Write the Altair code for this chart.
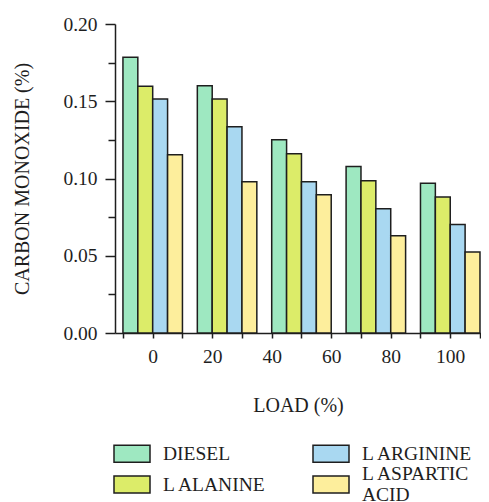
import altair as alt
import pandas as pd

loads = [0, 25, 50, 75, 100]
series = ["DIESEL", "L ALANINE", "L ARGININE", "L ASPARTIC ACID"]
diesel = [0.1785, 0.1600, 0.1251, 0.1077, 0.0969]
alanine = [0.1597, 0.1515, 0.1161, 0.0986, 0.0880]
arginine = [0.1515, 0.1335, 0.0979, 0.0805, 0.0703]
aspartic = [0.1154, 0.0979, 0.0895, 0.0630, 0.0524]
colors = ["#9ee8c1", "#dcec69", "#a9d8f1", "#fdee9c"]

x_ticks = [-10, 0, 10, 20, 30, 40, 50, 60, 70, 80, 90, 100, 110]
y_ticks = [0, 0.025, 0.05, 0.075, 0.1, 0.125, 0.15, 0.175, 0.2]

rows = []
for i, (name, vals) in enumerate(zip(series, [diesel, alanine, arginine, aspartic])):
    for load, v in zip(loads, vals):
        rows.append({"load": load, "series": name, "idx": i, "co": v})
df = pd.DataFrame(rows)

FONT = "Liberation Serif"
INK = "#1e1e1e"
FS = 19.5

chart = (
    alt.Chart(df)
    .transform_calculate(
        x0="datum.load - 10 + 5 * datum.idx",
        x1="datum.load - 5 + 5 * datum.idx",
    )
    .mark_bar(stroke=INK, strokeWidth=1.5, opacity=1)
    .encode(
        x=alt.X(
            "x0:Q",
            scale=alt.Scale(domain=[-12.67, 110.34], nice=False, zero=False),
            axis=alt.Axis(
                values=x_ticks,
                labelExpr="datum.value % 20 == 0 ? datum.label : ''",
                title="LOAD (%)",
                tickSize=5,
                labelPadding=9,
                titlePadding=30,
                labelFlush=False,
                labelOverlap=False,
            ),
        ),
        x2="x1:Q",
        y=alt.Y(
            "co:Q",
            scale=alt.Scale(domain=[0, 0.2], nice=False),
            axis=alt.Axis(
                values=y_ticks,
                labelExpr="round(datum.value * 1000) % 50 == 0 ? format(datum.value, '.2f') : ''",
                title="CARBON MONOXIDE (%)",
                tickSize={"condition": {"test": "round(datum.value * 1000) % 50 == 0", "value": 10}, "value": 7},
                labelPadding=8,
                titlePadding=30,
                labelFlush=False,
                labelOverlap=False,
            ),
        ),
        y2=alt.datum(0),
        color=alt.Color(
            "series:N",
            scale=alt.Scale(domain=series, range=colors),
            legend=alt.Legend(
                title=None,
                orient="none",
                legendX=-2,
                legendY=410.5,
                columns=2,
                symbolType="M-1,-0.47L1,-0.47L1,0.47L-1,0.47Z",
                symbolSize=1296,
                symbolStrokeColor=INK,
                symbolStrokeWidth=1.5,
                symbolOpacity=1,
                labelFont=FONT,
                labelFontSize=FS,
                labelColor=INK,
                labelOffset=12,
                labelLimit=400,
                columnPadding=43,
                rowPadding=-6,
                padding=0,
                labelBaseline={"expr": "datum.label == 'L ASPARTIC ACID' ? 'line-bottom' : 'middle'"},
                labelExpr="datum.label == 'L ASPARTIC ACID' ? ['L ASPARTIC', 'ACID'] : datum.label",
            ),
        ),
    )
    .properties(
        width=366,
        height=309,
        padding={"left": 107, "top": 16, "right": 0, "bottom": 180},
        autosize=alt.AutoSizeParams(type="none"),
    )
    .configure_view(stroke=None)
    .configure_axis(
        grid=False,
        domainColor=INK,
        domainWidth=1.5,
        tickColor=INK,
        tickWidth=1.5,
        labelFont=FONT,
        labelFontSize=FS,
        labelColor=INK,
        titleFont=FONT,
        titleFontSize=20,
        titleFontWeight="normal",
        titleColor=INK,
    )
)

chart.save("out.html", embed_options={"renderer": "svg", "actions": False})
